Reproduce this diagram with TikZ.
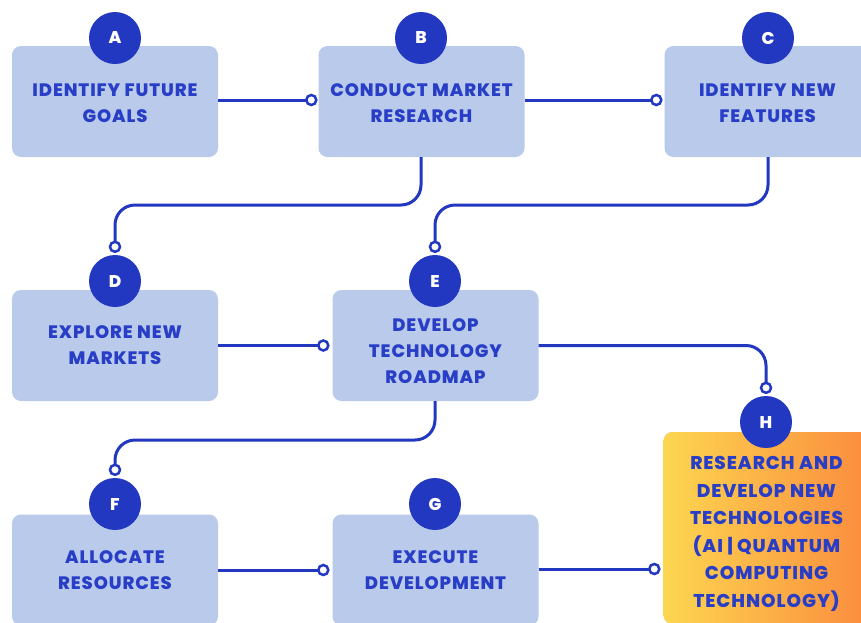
\documentclass[tikz,border=0pt]{standalone}
\usepackage{fontspec}
\setmainfont{Poppins}[BoldFont={Poppins ExtraBold}]
\definecolor{boxblue}{RGB}{185,202,234}
\definecolor{dkblue}{RGB}{35,56,192}
\definecolor{txtblue}{RGB}{40,62,198}
\definecolor{hyellow}{RGB}{252,214,80}
\definecolor{horange}{RGB}{251,140,62}
\begin{document}
\begin{tikzpicture}[x=1pt,y=-1pt,
  box/.style={rectangle, rounded corners=9pt, fill=boxblue, minimum width=206pt, minimum height=111pt, inner sep=0pt},
  lbl/.style={align=center, text=txtblue, inner sep=0pt, font=\bfseries\fontsize{18}{26}\selectfont\addfontfeatures{LetterSpace=5}},
  badge/.style={circle, fill=dkblue, minimum size=52pt, inner sep=0pt, text=white, font=\bfseries\fontsize{17}{17}\selectfont},
  conn/.style={draw=dkblue, line width=3pt, rounded corners=20pt},
  endring/.style={circle, draw=dkblue, fill=white, line width=2.5pt, minimum size=10pt, inner sep=0pt}]
\useasboundingbox (0,0) rectangle (861,622);
\clip (0,0) rectangle (861,622);
\fill[white] (0,0) rectangle (861,622);

% boxes
\node[box] (A) at (115,101.5) {};
\node[box] (B) at (421.5,101.5) {};
\node[box] (C) at (767.5,101.5) {};
\node[box] (D) at (115,345.5) {};
\node[box] (E) at (435.5,345.5) {};
\node[box] (F) at (115,570) {};
\node[box] (G) at (435.5,570) {};
\node[box, minimum height=192pt, left color=hyellow, right color=horange] (H) at (766.5,528) {};

% labels
\node[lbl] (tA) at ([yshift=-2pt]A.center) {IDENTIFY FUTURE\\GOALS};
\node[lbl] (tB) at ([yshift=-2pt]B.center) {CONDUCT MARKET\\RESEARCH};
\node[lbl] (tC) at ([yshift=-2pt]C.center) {IDENTIFY NEW\\FEATURES};
\node[lbl] (tD) at (D.center) {EXPLORE NEW\\MARKETS};
\node[lbl] (tE) at ([yshift=-6pt]E.center) {DEVELOP\\TECHNOLOGY\\ROADMAP};
\node[lbl] (tF) at (F.center) {ALLOCATE\\RESOURCES};
\node[lbl] (tG) at (G.center) {EXECUTE\\DEVELOPMENT};
\node[lbl, font=\bfseries\fontsize{18.5}{27.5}\selectfont\addfontfeatures{LetterSpace=5}] (tH) at ([yshift=-6pt]H.center) {RESEARCH AND\\DEVELOP NEW\\TECHNOLOGIES\\(AI | QUANTUM\\COMPUTING\\TECHNOLOGY)};

% connector helper coordinates
\coordinate (y1) at (0,205);
\coordinate (y2) at (0,440);

% connectors
\draw[conn] (A.east |- 0,100) -- ([xshift=-7pt]B.west |- 0,100);
\draw[conn] (B.east |- 0,100) -- ([xshift=-8pt]C.west |- 0,100);
\draw[conn] (D.east) -- ([xshift=-9pt]E.west);
\draw[conn] (F.east) -- ([xshift=-9pt]G.west);
\draw[conn] (G.east |- 0,569) -- ([xshift=-9pt]H.west |- 0,569);

% badges
\node[badge] (cA) at (115,38) {A};
\node[badge] (cB) at (421,38) {B};
\node[badge] (cC) at (768,38) {C};
\node[badge] (cD) at (115,281) {D};
\node[badge] (cE) at (435,281) {E};
\node[badge] (cF) at (115,504) {F};
\node[badge] (cG) at (435,504) {G};
\node[badge] (cH) at (766,422) {H};

\draw[conn] (B.south -| cB) -- (cB |- y1) -- (cD |- y1) -- ([yshift=8pt]cD.north);
\draw[conn] (C.south -| cC) -- (cC |- y1) -- (cE |- y1) -- ([yshift=8pt]cE.north);
\draw[conn] (E.east) -- (E.east -| cH) -- ([yshift=8pt]cH.north);
\draw[conn] (E.south -| cE) -- (cE |- y2) -- (cF |- y2) -- ([yshift=8pt]cF.north);

% end rings
\node[endring] (rB) at ([xshift=-7pt]B.west |- 0,100) {};
\node[endring] (rC) at ([xshift=-8pt]C.west |- 0,100) {};
\node[endring] (rE) at ([xshift=-9pt]E.west) {};
\node[endring] (rG) at ([xshift=-9pt]G.west) {};
\node[endring] (rH) at ([xshift=-9pt]H.west |- 0,569) {};
\node[endring] (rD) at ([yshift=8pt]cD.north) {};
\node[endring] (rE2) at ([yshift=8pt]cE.north) {};
\node[endring] (rH2) at ([yshift=8pt]cH.north) {};
\node[endring] (rF) at ([yshift=8pt]cF.north) {};
\end{tikzpicture}
\end{document}
